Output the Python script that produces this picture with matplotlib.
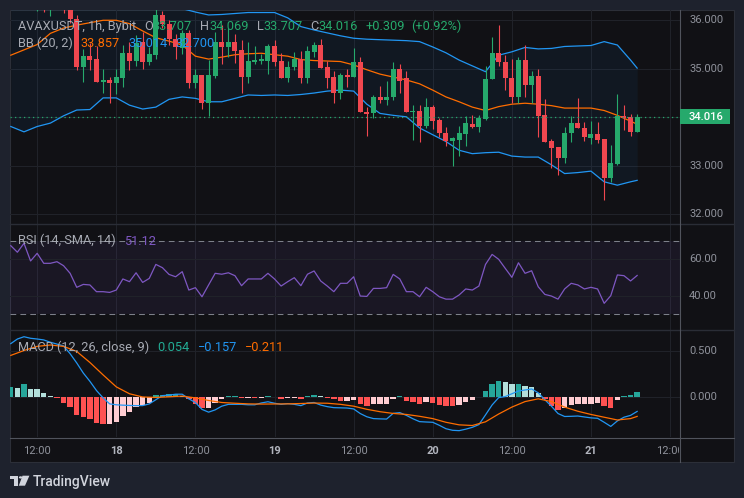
import matplotlib
matplotlib.use('Agg')
import matplotlib.pyplot as plt
from matplotlib.patches import Rectangle, Polygon, Circle
from matplotlib.lines import Line2D
from matplotlib.transforms import Bbox, TransformedBbox

# ---------------- data ----------------
# hourly candles, hour index relative to 18 00:00
hours = list(range(-16, 80))
opens = [36.55, 36.70, 36.50, 36.60, 36.45, 36.55, 36.30, 36.45, 36.40, 36.30,
         36.02, 35.04, 35.26, 35.20, 34.73, 34.77, 34.70, 34.82, 35.33, 35.17,
         35.55, 35.13, 35.28, 36.11, 35.92, 35.61, 35.42, 35.74, 34.71, 34.87,
         34.29, 34.85, 35.56, 35.44, 35.56, 35.39, 34.84, 35.15, 35.17, 35.17,
         35.46, 35.17, 34.80, 35.03, 35.20, 34.80, 35.35, 35.49, 35.03, 34.84,
         34.51, 34.87, 34.84, 35.15, 34.10, 34.08, 34.42, 34.36, 34.41, 34.99,
         34.80, 34.10, 34.14, 33.82, 34.22, 33.94, 33.68, 33.52, 33.53, 33.66,
         33.86, 33.81, 33.96, 34.78, 35.32, 35.15, 34.80, 34.42, 35.18, 34.67,
         34.85, 34.05, 33.51, 33.39, 33.17, 33.67, 33.89, 33.78, 33.58, 33.66,
         33.55, 32.75, 33.04, 34.03, 34.00, 33.707]
highs = [36.90, 36.95, 36.80, 36.85, 36.70, 36.75, 36.60, 36.60, 36.55, 36.40,
         36.10, 35.40, 35.53, 35.47, 35.00, 34.84, 35.00, 35.49, 35.56, 35.70,
         35.75, 35.45, 36.25, 36.20, 36.00, 35.72, 35.80, 35.80, 35.00, 34.87,
         35.18, 35.76, 35.90, 35.85, 35.72, 35.60, 35.56, 35.46, 35.30, 35.52,
         35.60, 35.32, 35.17, 35.34, 35.36, 35.48, 35.55, 35.62, 35.17, 34.95,
         34.92, 34.99, 35.42, 35.25, 34.22, 34.45, 34.65, 34.74, 35.14, 35.10,
         34.95, 34.25, 34.25, 34.40, 34.25, 33.98, 33.80, 33.60, 33.82, 34.02,
         34.05, 34.05, 35.05, 35.65, 35.90, 35.29, 35.20, 35.25, 35.49, 34.95,
         35.00, 34.38, 33.56, 33.39, 33.80, 34.03, 34.39, 33.91, 33.92, 33.90,
         33.55, 33.43, 34.48, 34.25, 34.07, 34.069]
lows = [36.40, 36.45, 36.35, 36.40, 36.19, 36.18, 36.09, 36.30, 36.16, 35.95,
        34.98, 34.73, 34.98, 34.72, 34.50, 34.30, 34.47, 34.62, 34.98, 35.05,
        35.00, 35.08, 35.20, 35.85, 35.50, 35.20, 35.30, 34.60, 34.60, 34.17,
        34.03, 34.80, 35.10, 35.25, 35.11, 34.50, 34.70, 35.09, 35.10, 34.90,
        35.05, 34.80, 34.73, 34.97, 34.71, 34.71, 35.25, 35.01, 34.60, 34.30,
        34.37, 34.62, 34.84, 34.10, 33.61, 33.98, 34.30, 34.26, 34.36, 34.50,
        34.10, 33.53, 33.50, 33.78, 33.75, 33.60, 33.40, 33.00, 33.20, 33.40,
        33.78, 33.70, 33.94, 34.78, 35.05, 34.57, 34.29, 34.30, 34.41, 34.30,
        33.60, 33.50, 32.96, 32.82, 33.06, 33.50, 33.77, 33.52, 33.45, 33.48,
        32.29, 32.67, 33.02, 33.74, 33.61, 33.707]
closes = [36.70, 36.50, 36.60, 36.45, 36.55, 36.35, 36.45, 36.40, 36.30, 36.02,
          35.04, 35.26, 35.18, 34.73, 34.77, 34.70, 34.83, 35.33, 35.17, 35.53,
          35.13, 35.31, 36.11, 35.92, 35.61, 35.45, 35.74, 34.71, 34.87, 34.29,
          34.87, 35.56, 35.44, 35.56, 35.37, 34.84, 35.17, 35.18, 35.19, 35.47,
          35.15, 34.80, 35.03, 35.20, 34.80, 35.37, 35.50, 35.01, 34.80, 34.51,
          34.87, 34.84, 35.15, 34.10, 34.07, 34.42, 34.36, 34.42, 34.99, 34.75,
          34.10, 34.14, 33.82, 34.22, 33.93, 33.67, 33.52, 33.57, 33.68, 33.88,
          33.81, 33.98, 34.78, 35.32, 35.13, 34.80, 34.42, 35.18, 34.67, 34.85,
          34.03, 33.50, 33.37, 33.17, 33.68, 33.89, 33.77, 33.59, 33.66, 33.53,
          32.75, 33.05, 34.03, 33.98, 33.707, 34.016]

# Bollinger bands (20, 2), read every two hours
bb_hours = list(range(-16, 79, 2)) + [79]
bb_upper = [37.2, 37.1, 37.0, 36.9, 36.8, 36.7, 36.6, 36.5, 36.45, 36.4,
            36.35, 36.3, 36.27, 36.24, 36.17, 36.11, 36.12, 36.14, 36.16, 36.16,
            36.16, 36.05, 35.87, 35.8, 35.74, 35.68, 35.63, 35.61, 35.6, 35.59,
            35.58, 35.56, 35.45, 35.33, 35.18, 35.06, 34.94, 35.28, 35.35, 35.44,
            35.41, 35.42, 35.46, 35.47, 35.48, 35.56, 35.49, 35.18, 35.014]
bb_basis = [35.28, 35.39, 35.50, 35.73, 35.84, 35.90, 35.95, 36.0, 36.0, 35.93,
            35.78, 35.64, 35.57, 35.49, 35.26, 35.20, 35.24, 35.29, 35.31, 35.32,
            35.29, 35.26, 35.19, 35.17, 35.16, 35.15, 35.08, 34.98, 34.89, 34.83,
            34.77, 34.69, 34.56, 34.42, 34.32, 34.21, 34.14, 34.22, 34.27, 34.29,
            34.27, 34.24, 34.19, 34.19, 34.19, 34.14, 34.04, 33.92, 33.857]
bb_lower = [33.81, 33.70, 33.81, 33.88, 34.03, 34.15, 34.16, 34.40, 34.40, 34.25,
            34.17, 34.21, 34.37, 34.42, 34.39, 34.32, 34.32, 34.39, 34.46, 34.45,
            34.46, 34.45, 34.47, 34.50, 34.54, 34.56, 34.54, 34.27, 34.08, 34.04,
            34.01, 33.78, 33.64, 33.50, 33.32, 33.25, 33.27, 33.28, 33.20, 33.18,
            33.18, 33.02, 32.84, 32.86, 32.89, 32.67, 32.60, 32.67, 32.700]

# RSI (14), hourly
rsi = [67.5, 63.9, 68.8, 59.1, 63.3, 57.8, 57.8, 58.7, 56.5, 52.3,
       44.6, 46.2, 45.9, 42.2, 42.2, 41.8, 43.1, 49.2, 47.7, 52.6,
       47.3, 49.5, 57.2, 55.4, 51.7, 50.4, 53.2, 43.1, 44.4, 39.4,
       45.9, 52.3, 51.8, 52.6, 51.0, 45.5, 49.2, 49.2, 49.2, 52.3,
       49.2, 45.3, 47.7, 49.9, 45.5, 51.8, 53.6, 48.1, 45.3, 42.2,
       46.8, 46.8, 50.4, 39.8, 39.6, 44.0, 44.0, 44.4, 51.7, 49.2,
       42.2, 42.2, 39.4, 44.6, 42.2, 39.4, 38.1, 38.1, 40.4, 43.7,
       43.1, 45.3, 57.2, 62.7, 60.0, 55.0, 50.1, 58.1, 52.3, 53.7,
       44.9, 40.7, 39.8, 38.1, 43.7, 46.8, 45.9, 43.7, 44.6, 43.7,
       35.8, 40.0, 51.4, 51.0, 48.1, 51.12]

# MACD (12, 26, 9), hourly
macd = [0.58, 0.63, 0.655, 0.638, 0.63, 0.62, 0.595, 0.575, 0.555, 0.47,
        0.37, 0.26, 0.17, 0.07, -0.01, -0.075, -0.085, -0.089, -0.092, -0.094,
        -0.094, -0.075, -0.03, 0.015, 0.02, 0.03, 0.03, -0.02, -0.06, -0.135,
        -0.165, -0.14, -0.1, -0.08, -0.08, -0.08, -0.085, -0.085, -0.065, -0.052,
        -0.068, -0.08, -0.072, -0.08, -0.094, -0.065, -0.06, -0.088, -0.105, -0.116,
        -0.118, -0.12, -0.13, -0.18, -0.215, -0.235, -0.238, -0.24, -0.178, -0.17,
        -0.2, -0.237, -0.268, -0.272, -0.275, -0.308, -0.345, -0.362, -0.366, -0.35,
        -0.33, -0.3, -0.195, -0.087, -0.007, 0.005, 0.035, 0.065, 0.076, 0.087,
        0.045, -0.03, -0.1, -0.18, -0.212, -0.21, -0.207, -0.217, -0.227, -0.232,
        -0.275, -0.32, -0.26, -0.22, -0.2, -0.157]
signal_hours = list(range(-16, 79, 2)) + [79]
signal = [0.452, 0.505, 0.55, 0.565, 0.55, 0.495, 0.375, 0.24, 0.11, 0.035,
          0.0, -0.005, 0.002, 0.01, -0.01, -0.038, -0.06, -0.068, -0.075, -0.077,
          -0.076, -0.075, -0.071, -0.066, -0.068, -0.08, -0.1, -0.134, -0.16, -0.179,
          -0.19, -0.21, -0.235, -0.275, -0.303, -0.31, -0.27, -0.185, -0.11, -0.05,
          -0.02, -0.05, -0.11, -0.155, -0.19, -0.22, -0.25, -0.235, -0.211]
hist = [0.112, 0.094, 0.138, 0.087, 0.087, 0.04, 0.014, -0.014, -0.062, -0.109,
        -0.196, -0.214, -0.243, -0.279, -0.29, -0.29, -0.268, -0.203, -0.167, -0.109,
        -0.087, -0.069, 0.018, 0.025, 0.029, 0.03, 0.014, -0.022, -0.072, -0.123,
        -0.116, -0.065, -0.022, 0.014, 0.016, -0.012, -0.01, -0.012, -0.01, 0.014,
        0.005, -0.022, -0.014, -0.012, -0.022, 0.007, 0.022, 0.014, -0.014, -0.022,
        -0.043, -0.04, -0.035, -0.072, -0.098, -0.08, -0.08, -0.078, -0.022, 0.006,
        -0.043, -0.05, -0.076, -0.058, -0.069, -0.087, -0.094, -0.096, -0.087, -0.05,
        -0.033, 0.004, 0.065, 0.138, 0.174, 0.159, 0.138, 0.145, 0.123, 0.109,
        0.043, -0.022, -0.094, -0.141, -0.123, -0.087, -0.08, -0.078, -0.076, -0.07,
        -0.094, -0.116, -0.036, 0.014, 0.022, 0.054]

time_ticks = [-12, 0, 12, 24, 36, 48, 60, 72, 84]
time_labels = ["12:00", "18", "12:00", "19", "12:00", "20", "12:00", "21", "12:00"]
price_ticks = [36.0, 35.0, 34.0, 33.0, 32.0]
price_labels = ["36.000", "35.000", None, "33.000", "32.000"]
rsi_ticks = [60, 40]
rsi_labels = ["60.00", "40.00"]
macd_ticks = [0.5, 0.0]
macd_labels = ["0.500", "0.000"]
last_price = 34.016

# ---------------- styling ----------------
W, H = 744, 498
FONT = ['Roboto', 'DejaVu Sans']
BG_OUT = '#1e222d'
BG_PANEL = '#111115'
GRID = '#202229'
SEP = '#2a2d36'
AXLINE = '#50535c'
UP = '#26a96c'
DOWN = '#f0474f'
BLUE = '#2196f3'
ORANGE = '#ff6d00'
PURPLE = '#7e57c2'
TXT = '#a7aab3'
LEG = 9.2

fig = plt.figure(figsize=(W / 100, H / 100), dpi=100)
fig.patch.set_facecolor(BG_OUT)
renderer = fig.canvas.get_renderer()


def fx(x):
    return x / W


def fy(y):
    return 1 - y / H


fig.add_artist(Rectangle((fx(10), fy(462)), (724) / W, (452) / H, transform=fig.transFigure,
                         facecolor=BG_PANEL, edgecolor='#2c2f38', lw=0.8, zorder=0))


def fline(x0, y0, x1, y1, color, lw=0.75, z=5):
    fig.add_artist(Line2D([fx(x0), fx(x1)], [fy(y0), fy(y1)], transform=fig.transFigure,
                          color=color, lw=lw, zorder=z))


def ftext(x, y, s, color, size, ha='left', va='baseline', weight='normal', **kw):
    return fig.text(fx(x), fy(y), s, color=color, fontsize=size, ha=ha, va=va,
                    fontweight=weight, family=FONT, **kw)


def seq(x, y, parts, size=LEG):
    """parts: list of (text, colour, gap_after_px)"""
    for s, c, gap in parts:
        t = ftext(x, y, s, c, size)
        x += t.get_window_extent(renderer=renderer).width + gap


XMIN, XMAX = -16.12, 85.5


def make_ax(y0, y1, ylim):
    ax = fig.add_axes([fx(10), fy(y1), (680 - 10) / W, (y1 - y0) / H])
    ax.set_facecolor('none')
    ax.set_xlim(XMIN, XMAX)
    ax.set_ylim(*ylim)
    for s in ax.spines.values():
        s.set_visible(False)
    ax.set_xticks([])
    ax.set_yticks([])
    for t in time_ticks:
        ax.axvline(t, color=GRID, lw=0.75, zorder=0)
    return ax


ax = make_ax(10, 224, (31.80, 36.212))
ax_rsi = make_ax(224, 330, (21.12, 79.43))
ax_m = make_ax(330, 437, (-0.435, 0.728))

# ---- main pane ----
for p in price_ticks:
    ax.axhline(p, color=GRID, lw=0.75, zorder=0)
ax.fill_between(bb_hours, bb_lower, bb_upper, color=BLUE, alpha=0.06, lw=0, zorder=1)
ax.plot(bb_hours, bb_upper, color=BLUE, lw=0.9, zorder=2)
ax.plot(bb_hours, bb_lower, color=BLUE, lw=0.9, zorder=2)
ax.plot(bb_hours, bb_basis, color=ORANGE, lw=0.9, zorder=2)

for t, o, h, l, c in zip(hours, opens, highs, lows, closes):
    col = UP if c >= o else DOWN
    ax.vlines(t, l, h, color=col, lw=0.8, zorder=3)
    body = max(abs(c - o), 0.022)
    ax.bar(t, body, bottom=min(o, c), width=0.76, color=col, lw=0, zorder=4)

ax.axhline(last_price, color=UP, lw=0.9, ls=(0, (1, 2.6)), zorder=5)

# ---- RSI pane ----
ax_rsi.axhspan(30, 70, color=PURPLE, alpha=0.09, lw=0, zorder=0)
for v in rsi_ticks:
    ax_rsi.axhline(v, color=GRID, lw=0.75, zorder=0)
for v in (70, 30):
    ax_rsi.axhline(v, color='#7d808a', lw=0.75, ls=(0, (5.5, 4)), zorder=1)
ax_rsi.plot(hours, rsi, color=PURPLE, lw=0.9, zorder=3)

# ---- MACD pane ----
for v in macd_ticks:
    ax_m.axhline(v, color=GRID, lw=0.75, zorder=0)
cols = []
prev = None
for hv in hist:
    if hv >= 0:
        cols.append('#26a69a' if (prev is None or hv > prev) else '#b2dfdb')
    else:
        cols.append('#ff5252' if (prev is None or hv < prev) else '#ffcdd2')
    prev = hv
ax_m.bar(hours, hist, width=0.82, color=cols, lw=0, zorder=2)
ax_m.plot(hours, macd, color=BLUE, lw=0.9, zorder=3)
ax_m.plot(signal_hours, signal, color=ORANGE, lw=0.9, zorder=3)

# ---- separators ----
fline(10, 224, 734, 224, SEP, lw=1.0)
fline(10, 330, 734, 330, SEP, lw=1.0)
fline(10, 437.5, 734, 437.5, AXLINE, lw=0.8)
fline(680, 10, 680, 462, AXLINE, lw=0.8)

# ---- price axis labels ----
def y_main(v):
    return 20.3 + (36 - v) * 48.5


for v, lab in zip(price_ticks, price_labels):
    if lab:
        ftext(689, y_main(v), lab, '#8f929b', 8, va='center')
for v, lab in zip(rsi_ticks, rsi_labels):
    ftext(689, 259.3 + (60 - v) * 1.817, lab, '#8f929b', 8, va='center')
for v, lab in zip(macd_ticks, macd_labels):
    ftext(689, 397 - v * 92, lab, '#8f929b', 8, va='center')

# current price tag
yl = y_main(last_price)
fig.add_artist(Rectangle((fx(680), fy(yl + 7.5)), 50 / W, 15 / H, transform=fig.transFigure,
                         facecolor=UP, edgecolor='none', zorder=6))
ftext(706, yl, f"{last_price:.3f}", 'white', 8, ha='center', va='center', weight='medium', zorder=7)

# ---- time axis labels ----
clipbox = TransformedBbox(Bbox([[fx(10), fy(462)], [fx(679), fy(437)]]), fig.transFigure)
for t, lab in zip(time_ticks, time_labels):
    x = 116.3 + 6.593 * t
    day = ':' not in lab
    txt = ftext(x, 450.5, lab, '#b2b5be' if day else '#8f929b', 8, ha='center', va='center',
                weight='bold' if day else 'normal')
    txt.set_clip_box(clipbox)
    txt.set_clip_on(True)

# ---- legends ----
G = '#22ab94'
seq(18, 30, [("AVAXUSDT, 1h, Bybit", TXT, 8),
             ("O", TXT, 0), ("33.707", UP, 8),
             ("H", TXT, 0), ("34.069", UP, 8),
             ("L", TXT, 0), ("33.707", UP, 8),
             ("C", TXT, 0), ("34.016", UP, 8),
             ("+0.309", UP, 6), ("(+0.92%)", UP, 0)])
seq(18, 47, [("BB (20, 2)", TXT, 8),
             (f"{bb_basis[-1]:.3f}", ORANGE, 8),
             (f"{bb_upper[-1]:.3f}", BLUE, 8),
             (f"{bb_lower[-1]:.3f}", BLUE, 0)])
seq(18, 244.5, [("RSI (14, SMA, 14)", TXT, 8),
                (f"{rsi[-1]:.2f}", PURPLE, 0)])
seq(18, 351, [("MACD (12, 26, close, 9)", TXT, 8),
              (f"{hist[-1]:.3f}", G, 8),
              (f"\u2212{abs(macd[-1]):.3f}", BLUE, 8),
              (f"\u2212{abs(signal[-1]):.3f}", ORANGE, 0)])

# ---- TradingView logo ----
LC = '#d1d4dc'
logo = [
    [(10, 475.7), (18.3, 475.7), (18.3, 485.7), (14.3, 485.7), (14.3, 479.3), (10, 479.3)],
    [(22.5, 475.7), (29.4, 475.7), (25.0, 485.7), (18.8, 485.7)],
]
for poly in logo:
    fig.add_artist(Polygon([(fx(a), fy(b)) for a, b in poly], closed=True,
                           transform=fig.transFigure, facecolor=LC, edgecolor='none'))
fig.add_artist(Circle((fx(20.6), fy(477.4)), 1.7 / W, transform=fig.transFigure,
                      facecolor=LC, edgecolor='none'))
ftext(33, 485.5, "TradingView", LC, 10, weight='medium')

fig.savefig('out.png', dpi=100, facecolor=BG_OUT)
